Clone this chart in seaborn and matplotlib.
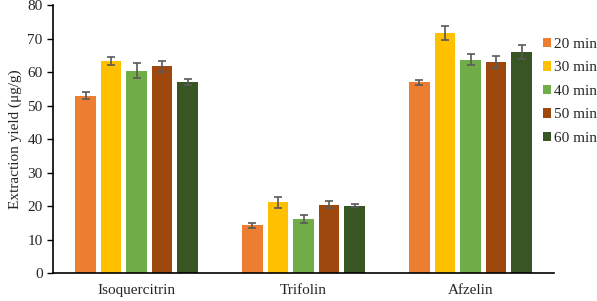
import matplotlib
matplotlib.use("Agg")
import matplotlib.pyplot as plt
import seaborn as sns
import pandas as pd
import numpy as np

compounds = ["Isoquercitrin", "Trifolin", "Afzelin"]
times = ["20 min", "30 min", "40 min", "50 min", "60 min"]
values = {
    "20 min": [53.0, 14.2, 56.9],
    "30 min": [63.3, 21.1, 71.6],
    "40 min": [60.4, 16.2, 63.7],
    "50 min": [61.7, 20.4, 62.9],
    "60 min": [57.1, 20.1, 66.0],
}
errors = {
    "20 min": [1.1, 0.8, 0.8],
    "30 min": [1.1, 1.6, 2.1],
    "40 min": [2.2, 1.2, 1.6],
    "50 min": [1.7, 1.1, 1.8],
    "60 min": [0.9, 0.5, 2.0],
}
colors = ["#ED7D31", "#FFC000", "#70AD47", "#9E480E", "#375623"]

rows = []
for t in times:
    for c, v, e in zip(compounds, values[t], errors[t]):
        rows.append({"Compound": c, "Time": t, "Yield": v, "Err": e})
df = pd.DataFrame(rows)

sns.set_style("white")
plt.rcParams["font.family"] = ["Liberation Serif", "DejaVu Serif"]

fig = plt.figure(figsize=(5.97, 3.01), dpi=100)
ax = fig.add_axes([0.089, 0.093, 0.839, 0.890])

sns.barplot(data=df, x="Compound", y="Yield", hue="Time", order=compounds,
            hue_order=times, palette=colors, width=0.765, gap=0.2,
            errorbar=None, ax=ax, saturation=1, linewidth=0)

# error bars from bar positions
for container, t in zip(ax.containers, times):
    errs = df[df["Time"] == t].set_index("Compound").loc[compounds, "Err"].values
    for bar, e in zip(container, errs):
        xc = bar.get_x() + bar.get_width() / 2
        ax.errorbar(xc, bar.get_height(), yerr=e, color="#595959",
                    capsize=3, elinewidth=1.2, capthick=1.2, fmt="none")

ax.set_ylim(0, 80)
ax.set_yticks(range(0, 81, 10))
ax.set_xlim(-0.5, 2.5)
ax.set_xlabel("")
ax.set_ylabel("Extraction yield (μg/g)", fontsize=11)
ax.tick_params(axis="y", labelsize=11, length=4, width=1, direction="out", left=True, color="black")
ax.tick_params(axis="x", labelsize=11, length=0, pad=8)
for s in ["top", "right"]:
    ax.spines[s].set_visible(False)
for s in ["left", "bottom"]:
    ax.spines[s].set_color("black")
    ax.spines[s].set_linewidth(1.2)

leg = ax.legend(loc="upper left", bbox_to_anchor=(0.978, 0.878), frameon=False,
                fontsize=11, handlelength=0.55, handleheight=0.55,
                handletextpad=0.2, labelspacing=0.69, borderaxespad=0,
                borderpad=0)

fig.savefig("out.png", dpi=100)
